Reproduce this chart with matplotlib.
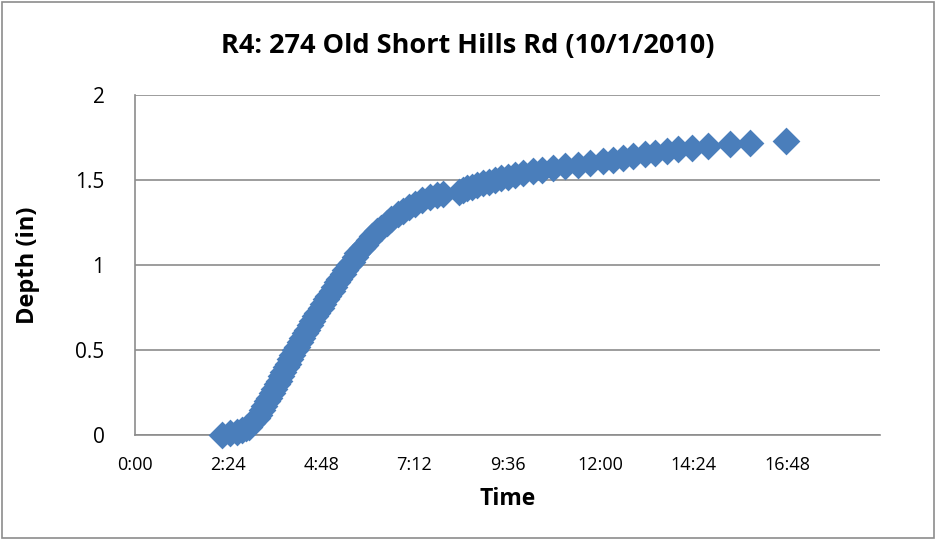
import numpy as np
import matplotlib
matplotlib.use('Agg')
import matplotlib.pyplot as plt
from matplotlib.ticker import FuncFormatter, MultipleLocator
from matplotlib.patches import Rectangle

# rain gauge record: clock time and cumulative depth (in)
times = ['2:14', '2:27', '2:38', '2:45', '2:52', '2:56', '3:01', '3:09', '3:12', '3:16',
	'3:19', '3:24', '3:27', '3:32', '3:35', '3:40', '3:42', '3:46', '3:49', '3:53',
	'3:56', '4:00', '4:03', '4:07', '4:10', '4:15', '4:18', '4:23', '4:26', '4:31',
	'4:34', '4:38', '4:42', '4:48', '4:51', '4:55', '4:59', '5:05', '5:08', '5:12',
	'5:16', '5:22', '5:25', '5:31', '5:35', '5:40', '5:44', '5:51', '5:55', '6:02',
	'6:07', '6:14', '6:20', '6:30', '6:36', '6:47', '6:54', '7:04', '7:13', '7:24',
	'7:36', '7:47', '7:56',
	'8:21', '8:27', '8:33', '8:41', '8:49', '8:58', '9:07', '9:17', '9:26', '9:37',
	'9:47', '10:00', '10:15', '10:29', '10:46', '11:05', '11:25', '11:43', '12:04', '12:19',
	'12:34', '12:50', '13:08', '13:24', '13:42', '14:00', '14:21', '14:46', '15:20', '15:51',
	'16:46']
depth = [0.00, 0.01, 0.02, 0.03, 0.04, 0.05, 0.07, 0.10, 0.12, 0.15,
	0.17, 0.20, 0.22, 0.25, 0.27, 0.30, 0.32, 0.35, 0.37, 0.40,
	0.42, 0.45, 0.47, 0.50, 0.52, 0.55, 0.57, 0.60, 0.62, 0.65,
	0.67, 0.70, 0.72, 0.75, 0.77, 0.80, 0.82, 0.85, 0.87, 0.90,
	0.92, 0.95, 0.97, 1.00, 1.02, 1.05, 1.07, 1.10, 1.12, 1.15,
	1.17, 1.20, 1.22, 1.25, 1.27, 1.30, 1.32, 1.34, 1.36, 1.38,
	1.40, 1.41, 1.42,
	1.43, 1.44, 1.45, 1.46, 1.47, 1.48, 1.49, 1.50, 1.51, 1.52,
	1.53, 1.54, 1.55, 1.56, 1.57, 1.58, 1.59, 1.60, 1.61, 1.62,
	1.63, 1.64, 1.65, 1.66, 1.67, 1.68, 1.69, 1.70, 1.71, 1.72,
	1.73]

def to_hours(s):
	h, m = s.split(':')
	return int(h) + int(m)/60.0

def hm(x, pos):
	mins = int(round(x*60))
	return '%d:%02d' % (mins//60, mins % 60)

t = np.array([to_hours(s) for s in times])
d = np.array(depth)

plt.rcParams['font.family'] = ['Open Sans', 'DejaVu Sans']

fig = plt.figure(figsize=(9.36, 5.40), dpi=100)
ax = fig.add_axes([0.1442, 0.1944, 0.7960, 0.6297])

ax.scatter(t, d, marker='D', s=200, color='#4A7EBB', linewidths=0, zorder=3, clip_on=False)

ax.set_xlim(0, 19.2)
ax.set_ylim(0, 2)
ax.xaxis.set_major_locator(MultipleLocator(2.4))
ax.yaxis.set_major_locator(MultipleLocator(0.5))
ax.xaxis.set_major_formatter(FuncFormatter(lambda x, p: '' if x > 17 else hm(x, p)))
ax.yaxis.set_major_formatter(FuncFormatter(lambda y, p: '%g' % y))

ax.grid(axis='y', color='#8c8c8c', linewidth=1.2)
ax.set_axisbelow(True)
for side in ['top', 'right']:
	ax.spines[side].set_visible(False)
ax.spines['left'].set_color('#8c8c8c')
ax.spines['bottom'].set_color('#8c8c8c')
ax.spines['left'].set_linewidth(1.2)
ax.spines['bottom'].set_linewidth(1.2)
ax.tick_params(axis='both', length=0)
ax.tick_params(axis='x', labelsize=13, pad=15)
ax.tick_params(axis='y', labelsize=15, pad=22)

ax.set_xlabel('Time', fontsize=16.5, fontweight='bold', va='center')
ax.set_ylabel('Depth (in)', fontsize=17, fontweight='bold', va='center')
ax.xaxis.set_label_coords(0.5, -0.188)
ax.yaxis.set_label_coords(-0.144, 0.5)
fig.text(0.5, 0.915, 'R4: 274 Old Short Hills Rd (10/1/2010)', ha='center', va='center',
	fontsize=19.5, fontweight='bold')

# chart area border
fig.patches.append(Rectangle((0.002, 0.003), 0.996, 0.994, transform=fig.transFigure,
	fill=False, edgecolor='#8c8c8c', linewidth=1.2))

fig.savefig('out.png', dpi=100)
